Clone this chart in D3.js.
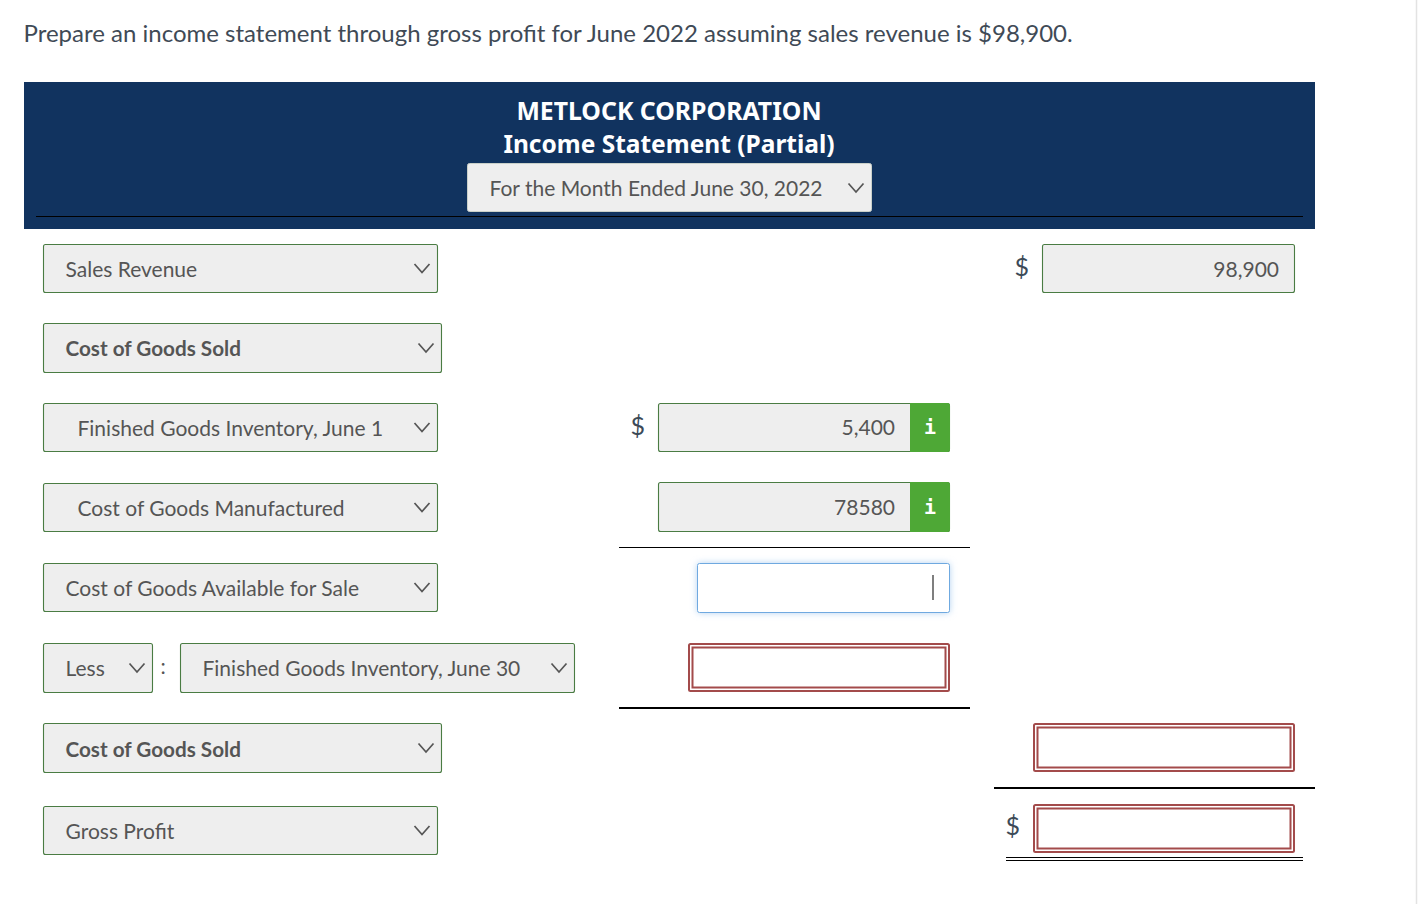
<!DOCTYPE html>
<html><head><meta charset="utf-8">
<script src="https://cdn.jsdelivr.net/npm/d3@7/dist/d3.min.js"></script>
<style>html,body{margin:0;padding:0;background:#fff;overflow:hidden}svg{display:block}text{font-family:Lato,sans-serif}</style>
</head><body><svg id="c" width="1418" height="904"></svg>
<script>
const question = "Prepare an income statement through gross profit for June 2022 assuming sales revenue is $98,900.";
const company = "METLOCK CORPORATION";
const statementName = "Income Statement (Partial)";
const period = "For the Month Ended June 30, 2022";
const rows = ["sales","cogsHead","fgStart","cogm","available","less","cogs","gross"];
const rowLabels = ["Sales Revenue","Cost of Goods Sold","Finished Goods Inventory, June 1","Cost of Goods Manufactured","Cost of Goods Available for Sale","Finished Goods Inventory, June 30","Cost of Goods Sold","Gross Profit"];
const lessLabel = "Less";
const amounts = ["98,900","5,400","78580"];

const svg = d3.select("#c");
const NAVY="#11335f", GREEN="#4a7c43", FILL="#eeeeee", TXT="#555555", RED="#a34b4b", INFO="#4ea836", LABEL=21;
const yTop = d3.scaleOrdinal().domain(rows).range([244,323,403,483,563,643,723,806]);
const boxH = d3.scaleOrdinal().domain(rows).range([48,49,48,48,48,49,49,48]);

function chevron(cx,cy){
  svg.append("path").attr("d",d3.line()([[cx-7.5,cy-4],[cx,cy+4.5],[cx+7.5,cy-4]]))
    .attr("fill","none").attr("stroke","#555").attr("stroke-width",1.7);
}
function select(x,y,w,h,label,opts={}){
  svg.append("rect").attr("x",x+.5).attr("y",y+.5).attr("width",w).attr("height",h).attr("rx",2)
    .attr("fill",FILL).attr("stroke",GREEN).attr("stroke-width",1.1);
  svg.append("text").attr("x",x+(opts.pad||22.5)).attr("y",y+h/2+8.75+(opts.dy||0)).attr("font-size",opts.bold?20.7:LABEL)
    .attr("font-weight",opts.bold?700:400).attr("fill",TXT).text(label);
  chevron(x+w-(opts.ch||15),y+h/2);
}
function rule(x1,x2,y,w){
  svg.append("line").attr("x1",x1).attr("x2",x2).attr("y1",y).attr("y2",y).attr("stroke","#000").attr("stroke-width",w);
}
function dollar(x,y){
  svg.append("text").attr("x",x).attr("y",y).attr("font-size",25).attr("fill","#3c4a57").text("$");
}
function invalid(x,y,w,h){
  svg.append("rect").attr("x",x+1).attr("y",y+1).attr("width",w-1).attr("height",h-1).attr("rx",1.5)
    .attr("fill","#fff").attr("stroke",RED).attr("stroke-width",2);
  svg.append("rect").attr("x",x+4.5).attr("y",y+4.5).attr("width",w-8).attr("height",h-8)
    .attr("fill","none").attr("stroke",RED).attr("stroke-width",2);
}
function infoField(x,y,w,h,val){
  svg.append("rect").attr("x",x+.5).attr("y",y+.5).attr("width",w).attr("height",h).attr("rx",2)
    .attr("fill",FILL).attr("stroke",GREEN).attr("stroke-width",1.1);
  svg.append("path").attr("d",`M${x+252} ${y}H${x+w-1.5}Q${x+w+1} ${y} ${x+w+1} ${y+2.5}V${y+h-1.5}Q${x+w+1} ${y+h+1} ${x+w-1.5} ${y+h+1}H${x+252}Z`).attr("fill",INFO);
  svg.append("text").attr("x",x+237).attr("y",y+h/2+8).attr("text-anchor","end").attr("font-size",LABEL).attr("fill",TXT).text(val);
  svg.append("text").attr("x",x+272).attr("y",y+h/2+7).attr("text-anchor","middle").attr("font-size",20)
    .attr("font-weight",700).attr("fill","#fff").style("font-family","'DejaVu Sans Mono',monospace").text("i");
}

// scrollbar edge
svg.append("line").attr("x1",1416.5).attr("x2",1416.5).attr("y1",0).attr("y2",904).attr("stroke","#e3e3e3").attr("stroke-width",1.5);

// question
svg.append("text").attr("x",23.5).attr("y",42).attr("font-size",24).attr("fill","#3f4a56").text(question);

// header band
svg.append("rect").attr("x",24).attr("y",82).attr("width",1291).attr("height",147).attr("fill",NAVY);
svg.append("text").attr("x",669).attr("y",120).attr("text-anchor","middle").attr("font-size",24.8).attr("font-weight",700).attr("fill","#fff").style("font-family","'Noto Sans',sans-serif").text(company);
svg.append("text").attr("x",669).attr("y",153).attr("text-anchor","middle").attr("font-size",24.5).attr("font-weight",700).attr("fill","#fff").style("font-family","'Noto Sans',sans-serif").text(statementName);
rule(36,1303,216.5,1);
svg.append("rect").attr("x",467.5).attr("y",163.5).attr("width",404).attr("height",48).attr("rx",2).attr("fill",FILL).attr("stroke","#c9d0c9");
svg.append("text").attr("x",489.5).attr("y",196).attr("font-size",LABEL).attr("fill",TXT).text(period);
chevron(856,187.5);

// label selects
select(43,yTop("sales"),394,boxH("sales"),rowLabels[0]);
select(43,yTop("cogsHead"),398,boxH("cogsHead"),rowLabels[1],{bold:true});
select(43,yTop("fgStart"),394,boxH("fgStart"),rowLabels[2],{pad:34.5});
select(43,yTop("cogm"),394,boxH("cogm"),rowLabels[3],{pad:34.5});
select(43,yTop("available"),394,boxH("available"),rowLabels[4]);
select(43,yTop("less"),109,boxH("less"),lessLabel);
svg.append("text").attr("x",160.5).attr("y",yTop("less")+31).attr("font-size",LABEL).attr("fill",TXT).text(":");
select(180,yTop("less"),394,boxH("less"),rowLabels[5]);
select(43,yTop("cogs"),398,boxH("cogs"),rowLabels[6],{bold:true,dy:1});
select(43,yTop("gross"),394,boxH("gross"),rowLabels[7]);

// sales amount
dollar(1014.5,yTop("sales")+32);
svg.append("rect").attr("x",1042.5).attr("y",yTop("sales")+.5).attr("width",252).attr("height",boxH("sales")).attr("rx",2).attr("fill",FILL).attr("stroke",GREEN).attr("stroke-width",1.1);
svg.append("text").attr("x",1279).attr("y",yTop("sales")+33).attr("text-anchor","end").attr("font-size",LABEL).attr("fill",TXT).text(amounts[0]);

// inner column
dollar(630.5,yTop("fgStart")+32);
infoField(658,yTop("fgStart"),291,48,amounts[1]);
infoField(658,yTop("cogm")-1,291,49,amounts[2]);
rule(619,970,547.5,1.2);

// focused field
const defs=svg.append("defs");
const glow=defs.append("filter").attr("id","glow").attr("x","-10%").attr("y","-40%").attr("width","120%").attr("height","180%");
glow.append("feGaussianBlur").attr("stdDeviation",3.5);
svg.append("rect").attr("x",697.5).attr("y",563.5).attr("width",252).attr("height",49).attr("rx",2).attr("fill","#a9cdf0").attr("filter","url(#glow)");
svg.append("rect").attr("x",697.5).attr("y",563.5).attr("width",252).attr("height",49).attr("rx",2).attr("fill","#fff").attr("stroke","#6fa9e0");
svg.append("line").attr("x1",933).attr("x2",933).attr("y1",575).attr("y2",600).attr("stroke","#555").attr("stroke-width",1.5);

invalid(688,643,261,48);
rule(619,970,708,2);
invalid(1033,723,261,48);
rule(994,1315,788,2);
dollar(1005.5,yTop("gross")+29);
invalid(1033,804,261,48);
rule(1006,1303,857.5,1);
rule(1006,1303,860.5,1);
</script></body></html>
